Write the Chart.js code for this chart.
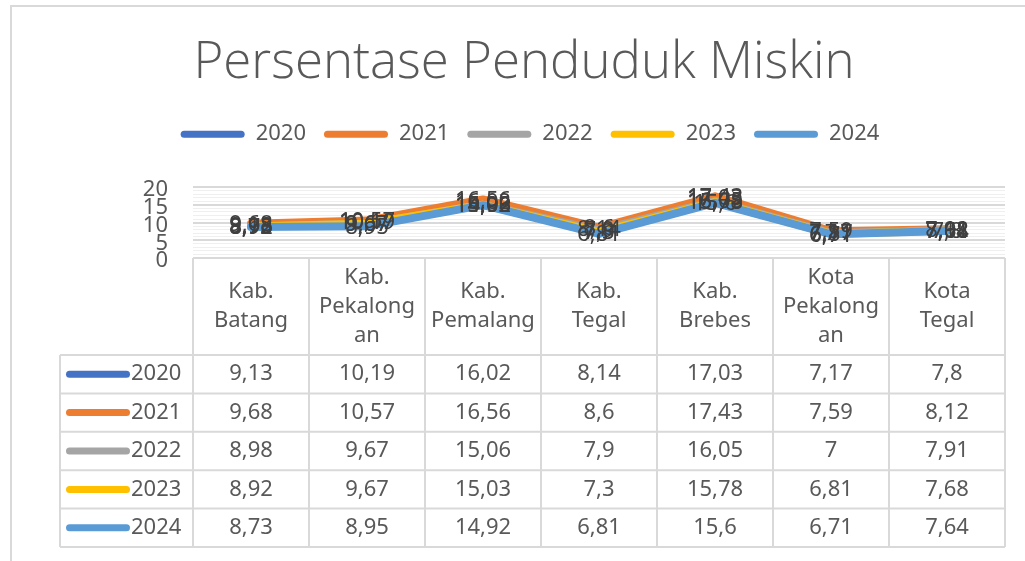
<!DOCTYPE html>
<html><head><meta charset="utf-8">
<script src="https://cdn.jsdelivr.net/npm/chart.js@4.4.1/dist/chart.umd.min.js"></script>
<style>html,body{margin:0;padding:0;background:#fff;overflow:hidden}</style>
</head><body>
<canvas id="c" width="1025" height="561" style="width:1025px;height:561px;display:block"></canvas>
<script>
// ---- data ----
const categories = [["Kab.","Batang"],["Kab.","Pekalong","an"],["Kab.","Pemalang"],["Kab.","Tegal"],["Kab.","Brebes"],["Kota","Pekalong","an"],["Kota","Tegal"]];
const seriesNames = ["2020","2021","2022","2023","2024"];
const v2020 = [9.13,10.19,16.02,8.14,17.03,7.17,7.8];
const v2021 = [9.68,10.57,16.56,8.6,17.43,7.59,8.12];
const v2022 = [8.98,9.67,15.06,7.9,16.05,7,7.91];
const v2023 = [8.92,9.67,15.03,7.3,15.78,6.81,7.68];
const v2024 = [8.73,8.95,14.92,6.81,15.6,6.71,7.64];
const seriesValues = [v2020,v2021,v2022,v2023,v2024];
const seriesColors = ["#4472C4","#ED7D31","#A5A5A5","#FFC000","#5B9BD5"];
const yTickLabels = [0,5,10,15,20];
const titleText = "Persentase Penduduk Miskin";

// ---- styles ----
const FONT = '"Noto Sans", "Open Sans", sans-serif';
const TXT = '#595959';
const GRID = '#d9d9d9';
const fmt = v => String(v).replace('.', ',');

const borderPlugin = {
  id: 'frame',
  beforeDraw(chart) {
    const ctx = chart.ctx;
    ctx.save();
    ctx.fillStyle = '#fff';
    ctx.fillRect(0, 0, chart.width, chart.height);
    ctx.strokeStyle = GRID;
    ctx.lineWidth = 2;
    ctx.beginPath();
    ctx.moveTo(11, chart.height + 2);
    ctx.lineTo(11, 6);
    ctx.lineTo(chart.width + 2, 6);
    ctx.stroke();
    ctx.restore();
  }
};

const legendFix = {
  id: 'legendFix',
  afterInit(chart) {
    const lg = chart.legend;
    const origFit = lg.fit;
    lg.fit = function () { origFit.call(this); this.height = 82; };
    const origDraw = lg.draw;
    lg.draw = function () {
      const ctx = this.ctx;
      ctx.save();
      ctx.translate(6, 0);
      origDraw.call(this);
      ctx.restore();
    };
  }
};

const labelPlugin = {
  id: 'dataLabels',
  afterDatasetsDraw(chart) {
    const ctx = chart.ctx;
    ctx.save();
    ctx.font = '22px ' + FONT;
    ctx.fillStyle = '#404040';
    ctx.textAlign = 'center';
    ctx.textBaseline = 'middle';
    chart.data.datasets.forEach((ds, di) => {
      const meta = chart.getDatasetMeta(di);
      meta.data.forEach((pt, i) => {
        ctx.fillText(fmt(ds.data[i]), pt.x, pt.y + 1);
      });
    });
    ctx.restore();
  }
};

const tablePlugin = {
  id: 'dataTable',
  afterDraw(chart) {
    const ctx = chart.ctx;
    const xs = chart.scales.x;
    const area = chart.chartArea;
    const n = categories.length;
    const colW = (area.right - area.left) / n;
    const top = area.bottom;
    const headH = 97;
    const rowH = 38.4;
    const legL = 60;
    ctx.save();
    ctx.strokeStyle = GRID;
    ctx.lineWidth = 2;
    for (let i = 0; i <= n; i++) {
      const x = xs.getPixelForValue(i) - colW / 2;
      ctx.beginPath(); ctx.moveTo(x, top); ctx.lineTo(x, top + headH + rowH * seriesNames.length); ctx.stroke();
    }
    ctx.beginPath(); ctx.moveTo(area.right, top); ctx.lineTo(area.right, top + headH + rowH * seriesNames.length); ctx.stroke();
    for (let r = 0; r <= seriesNames.length; r++) {
      const y = top + headH + r * rowH;
      ctx.beginPath(); ctx.moveTo(legL, y); ctx.lineTo(area.right, y); ctx.stroke();
    }
    ctx.beginPath(); ctx.moveTo(legL, top + headH); ctx.lineTo(legL, top + headH + rowH * seriesNames.length); ctx.stroke();
    ctx.fillStyle = TXT;
    ctx.textAlign = 'center';
    ctx.textBaseline = 'middle';
    ctx.font = '22px ' + FONT;
    const lh = 29;
    categories.forEach((lines, i) => {
      const cx = xs.getPixelForValue(i);
      const cy = top + headH / 2;
      lines.forEach((t, k) => {
        ctx.fillText(t, cx, cy + (k - (lines.length - 1) / 2) * lh);
      });
    });
    seriesNames.forEach((name, r) => {
      const cy = top + headH + r * rowH + rowH / 2;
      ctx.fillStyle = seriesColors[r];
      ctx.beginPath();
      ctx.roundRect(66, cy - 3.5, 64, 7, 3.5);
      ctx.fill();
      ctx.fillStyle = TXT;
      ctx.textAlign = 'left';
      ctx.font = '22px ' + FONT;
      ctx.fillText(name, 131, cy);
      ctx.textAlign = 'center';
      seriesValues[r].forEach((v, i) => {
        ctx.fillText(fmt(v), xs.getPixelForValue(i), cy);
      });
    });
    ctx.restore();
  }
};

new Chart(document.getElementById('c'), {
  type: 'line',
  data: {
    labels: categories.map(c => c.join(' ')),
    datasets: seriesNames.map((name, i) => ({
      label: name,
      data: seriesValues[i],
      borderColor: seriesColors[i],
      backgroundColor: seriesColors[i],
      borderWidth: 8,
      borderCapStyle: 'round',
      borderJoinStyle: 'round',
      pointRadius: 0,
      tension: 0,
      fill: false,
      order: seriesNames.length - i
    }))
  },
  options: {
    responsive: false,
    animation: false,
    layout: { padding: { left: 43, right: 20, top: 0, bottom: 303 } },
    plugins: {
      tooltip: { enabled: false },
      title: {
        display: true,
        text: titleText,
        color: TXT,
        font: { family: '"Open Sans", "Noto Sans", sans-serif', size: 51, weight: '300' },
        padding: { top: 33, bottom: 11 }
      },
      legend: {
        display: true,
        position: 'top',
        labels: {
          color: TXT,
          font: { family: FONT, size: 22 },
          boxWidth: 64,
          boxHeight: 7,
          padding: 18,
          useBorderRadius: true,
          borderRadius: 3.5,
          generateLabels: chart => chart.data.datasets.map((ds, i) => ({
            text: ds.label,
            fillStyle: seriesColors[i],
            strokeStyle: seriesColors[i],
            lineWidth: 0,
            borderRadius: 3.5,
            fontColor: TXT,
            datasetIndex: i,
            hidden: false
          }))
        }
      }
    },
    scales: {
      x: {
        display: false,
        offset: true
      },
      y: {
        min: 0, max: 20,
        afterFit(scale) { scale.width = 150; },
        border: { display: false },
        grid: {
          drawTicks: false,
          color: c => (c.tick && c.tick.value % 5 === 0) ? GRID : '#efefef',
          lineWidth: c => (c.tick && c.tick.value % 5 === 0) ? 2 : 1
        },
        ticks: {
          stepSize: 1,
          autoSkip: false,
          padding: 25,
          labelOffset: 3,
          color: TXT,
          font: { family: FONT, size: 22 },
          callback: v => yTickLabels.includes(v) ? String(v) : ''
        }
      }
    }
  },
  plugins: [borderPlugin, legendFix, labelPlugin, tablePlugin]
});
</script>
</body></html>
